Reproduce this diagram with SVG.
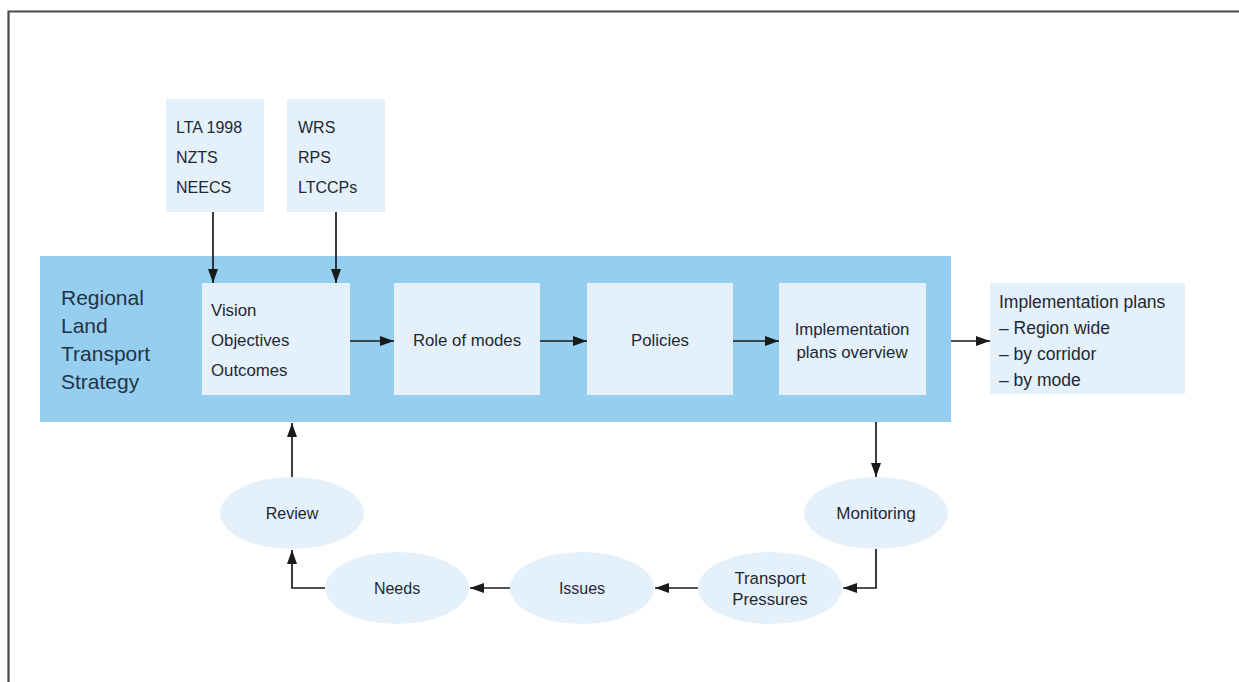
<svg xmlns="http://www.w3.org/2000/svg" width="1239" height="682" viewBox="0 0 1239 682">
<defs>
<style>
.t{font-family:"Liberation Sans",Arial,sans-serif;font-size:16px;fill:#1e2833}
.c{text-anchor:middle}
.big{font-size:21px;fill:#1f3447}
.box{fill:#e4f1fb}
.ell{fill:#e4f0fa}
.ln{fill:none;stroke:#1a1a1a;stroke-width:1.7}
</style>
<marker id="ah" viewBox="0 0 14 10" refX="14" refY="5" markerWidth="14" markerHeight="10" markerUnits="userSpaceOnUse" orient="auto">
<path d="M0,0 L14,5 L0,10 Z" fill="#1a1a1a"/>
</marker>
</defs>
<rect width="1239" height="682" fill="#ffffff"/>
<path d="M1239,11.5 H8.5 V682" fill="none" stroke="#4a4a4a" stroke-width="2.2"/>

<g id="rlts">
<rect x="40" y="256" width="911" height="166" fill="#96cef0"/>
<text class="t big" x="61" y="305">Regional</text>
<text class="t big" x="61" y="333">Land</text>
<text class="t big" x="61" y="361">Transport</text>
<text class="t big" x="61" y="389">Strategy</text>
</g>

<g id="lta">
<rect class="box" x="166" y="99" width="98" height="113"/>
<text class="t" x="176" y="133">LTA 1998</text>
<text class="t" x="176" y="163">NZTS</text>
<text class="t" x="176" y="193">NEECS</text>
</g>
<g id="wrs">
<rect class="box" x="287" y="99" width="98" height="113"/>
<text class="t" x="298" y="133">WRS</text>
<text class="t" x="298" y="163">RPS</text>
<text class="t" x="298" y="193">LTCCPs</text>
</g>

<g id="vision">
<rect class="box" x="202" y="283" width="148" height="112"/>
<text class="t" x="211" y="316" style="font-size:16.8px">Vision</text>
<text class="t" x="211" y="346" style="font-size:16.8px">Objectives</text>
<text class="t" x="211" y="376" style="font-size:16.8px">Outcomes</text>
</g>
<g id="role">
<rect class="box" x="394" y="283" width="146" height="112"/>
<text class="t c" x="467" y="346" style="font-size:16.8px">Role of modes</text>
</g>
<g id="policies">
<rect class="box" x="587" y="283" width="146" height="112"/>
<text class="t c" x="660" y="346" style="font-size:16.8px">Policies</text>
</g>
<g id="impl">
<rect class="box" x="779" y="283" width="147" height="112"/>
<text class="t c" x="852" y="335" style="font-size:16.8px">Implementation</text>
<text class="t c" x="852" y="358" style="font-size:16.8px">plans overview</text>
</g>
<g id="implplans">
<rect class="box" x="990" y="283" width="195" height="111"/>
<text class="t" x="999" y="308" style="font-size:17.5px">Implementation plans</text>
<text class="t" x="999" y="334" style="font-size:17.5px">– Region wide</text>
<text class="t" x="999" y="360" style="font-size:17.5px">– by corridor</text>
<text class="t" x="999" y="386" style="font-size:17.5px">– by mode</text>
</g>

<g id="review">
<ellipse class="ell" cx="292" cy="513" rx="72" ry="36"/>
<text class="t c" x="292" y="519">Review</text>
</g>
<g id="needs">
<ellipse class="ell" cx="397" cy="588" rx="72" ry="36"/>
<text class="t c" x="397" y="594">Needs</text>
</g>
<g id="issues">
<ellipse class="ell" cx="582" cy="588" rx="72" ry="36"/>
<text class="t c" x="582" y="594">Issues</text>
</g>
<g id="transport">
<ellipse class="ell" cx="770" cy="588" rx="72" ry="36"/>
<text class="t c" x="770" y="584" style="font-size:16.8px">Transport</text>
<text class="t c" x="770" y="605" style="font-size:16.8px">Pressures</text>
</g>
<g id="monitoring">
<ellipse class="ell" cx="876" cy="513" rx="72" ry="36"/>
<text class="t c" x="876" y="519" style="font-size:17px">Monitoring</text>
</g>

<g id="connectors">
<path class="ln" d="M213,212 V283" marker-end="url(#ah)"/>
<path class="ln" d="M336,212 V283" marker-end="url(#ah)"/>
<path class="ln" d="M350,341 H394" marker-end="url(#ah)"/>
<path class="ln" d="M540,341 H587" marker-end="url(#ah)"/>
<path class="ln" d="M733,341 H779" marker-end="url(#ah)"/>
<path class="ln" d="M951,341 H990" marker-end="url(#ah)"/>
<path class="ln" d="M876,422 V477" marker-end="url(#ah)"/>
<path class="ln" d="M876,549 V588 H843" marker-end="url(#ah)"/>
<path class="ln" d="M698,588 H655" marker-end="url(#ah)"/>
<path class="ln" d="M510,588 H470" marker-end="url(#ah)"/>
<path class="ln" d="M325,588 H292 V550" marker-end="url(#ah)"/>
<path class="ln" d="M292,477 V423" marker-end="url(#ah)"/>
</g>
</svg>
